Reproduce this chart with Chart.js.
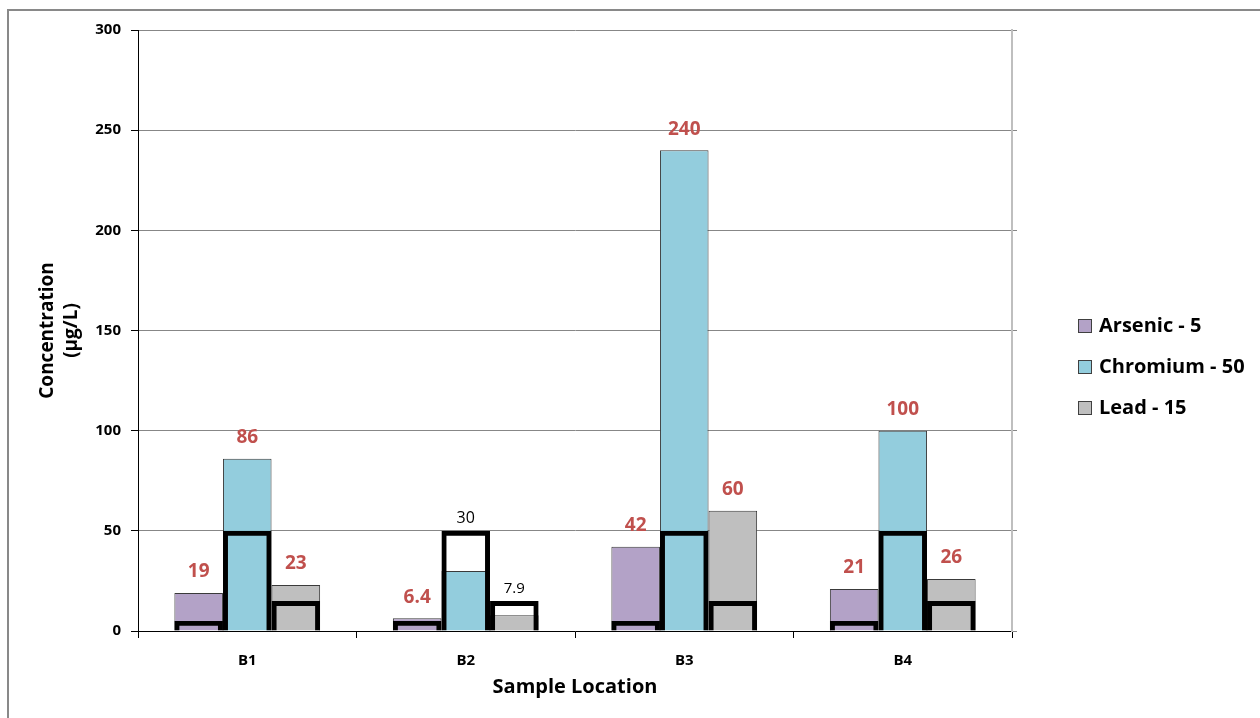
<!DOCTYPE html>
<html>
<head>
<meta charset="utf-8">
<script src="https://cdn.jsdelivr.net/npm/chart.js@4"></script>
<style>
  body { margin: 0; background: #fff; }
  #wrap { width: 1260px; height: 718px; }
</style>
</head>
<body>
<div id="wrap"><canvas id="chart"></canvas></div>
<script>
const locations = ['B1', 'B2', 'B3', 'B4'];
const seriesNames = ['Arsenic - 5', 'Chromium - 50', 'Lead - 15'];
const arsenic = [19, 6.4, 42, 21];
const chromium = [86, 30, 240, 100];
const lead = [23, 7.9, 60, 26];
// screening standards drawn as outlined boxes
const arsenicStd = [5, 5, 5, 5];
const chromiumStd = [50, 50, 50, 50];
const leadStd = [15, 15, 15, 15];
const yTicks = [0, 50, 100, 150, 200, 250, 300];

const fillColors = ['#B3A2C7', '#93CDDD', '#BFBFBF'];
const groupKeys = ['as', 'cr', 'pb'];
const FONT = '"Open Sans", sans-serif';

const frame = {
  id: 'frame',
  beforeDraw(chart) {
    const c = chart.ctx;
    c.save();
    c.fillStyle = '#fff';
    c.fillRect(0, 0, chart.width, chart.height);
    c.strokeStyle = '#898989';
    c.lineWidth = 2;
    c.beginPath();
    c.moveTo(8, chart.height);
    c.lineTo(8, 10);
    c.lineTo(chart.width, 10);
    c.stroke();
    c.restore();
  }
};

const valueLabels = {
  id: 'valueLabels',
  afterDatasetsDraw(chart) {
    const c = chart.ctx;
    const y = chart.scales.y;
    c.save();
    c.textAlign = 'center';
    c.textBaseline = 'middle';
    for (let i = 0; i < 3; i++) {
      const meta = chart.getDatasetMeta(i);
      const vals = chart.data.datasets[i].data;
      const stds = chart.data.datasets[i + 3].data;
      meta.data.forEach((bar, j) => {
        const v = vals[j], s = stds[j];
        const top = y.getPixelForValue(Math.max(v, s));
        if (v > s) {
          c.fillStyle = '#C0504D';
          c.font = 'bold 19px ' + FONT;
          c.fillText(String(v), bar.x, top - 21);
        } else {
          c.fillStyle = '#000';
          c.font = (v >= 10 ? '16px ' : '15px ') + FONT;
          c.fillText(String(v), bar.x, top - 12);
        }
      });
    }
    c.restore();
  }
};

const sideLegend = {
  id: 'sideLegend',
  afterDraw(chart) {
    const c = chart.ctx;
    c.save();
    c.font = 'bold 20px ' + FONT;
    c.textBaseline = 'middle';
    seriesNames.forEach((name, i) => {
      const cy = 326 + i * 41;
      c.fillStyle = fillColors[i];
      c.fillRect(1078, cy - 7, 14, 14);
      c.strokeStyle = '#404040';
      c.lineWidth = 1;
      c.strokeRect(1078.5, cy - 6.5, 13, 13);
      c.fillStyle = '#000';
      c.fillText(name, 1099, cy);
    });
    c.restore();
  }
};

const dataSets = [arsenic, chromium, lead].map((d, i) => ({
  label: seriesNames[i],
  data: d,
  stack: groupKeys[i],
  backgroundColor: fillColors[i],
  borderColor: '#3a3a3a',
  borderWidth: 1,
  order: 1
}));
const stdSets = [arsenicStd, chromiumStd, leadStd].map((d, i) => ({
  label: seriesNames[i] + ' std',
  data: d,
  stack: groupKeys[i],
  backgroundColor: 'rgba(0,0,0,0)',
  borderColor: '#000',
  borderWidth: 5,
  order: 0
}));

new Chart(document.getElementById('chart'), {
  type: 'bar',
  data: { labels: locations, datasets: dataSets.concat(stdSets) },
  options: {
    responsive: true,
    maintainAspectRatio: false,
    animation: false,
    categoryPercentage: 0.667,
    barPercentage: 1.0,
    layout: { padding: { left: 8, top: 30, right: 243, bottom: 0 } },
    plugins: {
      legend: { display: false },
      tooltip: { enabled: false }
    },
    scales: {
      x: {
        offset: true,
        border: { color: '#000', width: 1 },
        grid: { offset: true, drawOnChartArea: false, drawTicks: true, tickLength: 7, color: '#000' },
        ticks: { color: '#000', padding: 14, font: { family: FONT, size: 15, weight: 'bold' } },
        title: {
          display: true, text: 'Sample Location', color: '#000',
          font: { family: FONT, size: 20, weight: 'bold' }, padding: { top: 0, bottom: 19 }
        },
        afterFit(s) { s.height = 87; }
      },
      y: {
        stacked: false,
        min: 0, max: 300,
        afterBuildTicks(s) { s.ticks = yTicks.map(v => ({ value: v })); },
        border: { color: '#000', width: 1 },
        grid: { color: '#878787', tickColor: '#000', tickLength: 7 },
        ticks: { color: '#000', padding: 10, font: { family: FONT, size: 15, weight: 'bold' } },
        title: {
          display: true, text: ['Concentration', '(\u00B5g/L)'], color: '#000',
          font: { family: FONT, size: 19, weight: 'bold', lineHeight: 1.3 }, padding: { top: 27, bottom: 0 }
        },
        afterFit(s) { s.width = 130; }
      },
      y2: {
        position: 'right',
        min: 0, max: 300,
        afterBuildTicks(s) { s.ticks = yTicks.map(v => ({ value: v })); },
        border: { color: '#BFBFBF', width: 2 },
        grid: { drawOnChartArea: false, tickLength: 5, color: '#878787' },
        ticks: { display: false },
        afterFit(s) { s.width = 5; }
      }
    }
  },
  plugins: [frame, valueLabels, sideLegend]
});
</script>
</body>
</html>
